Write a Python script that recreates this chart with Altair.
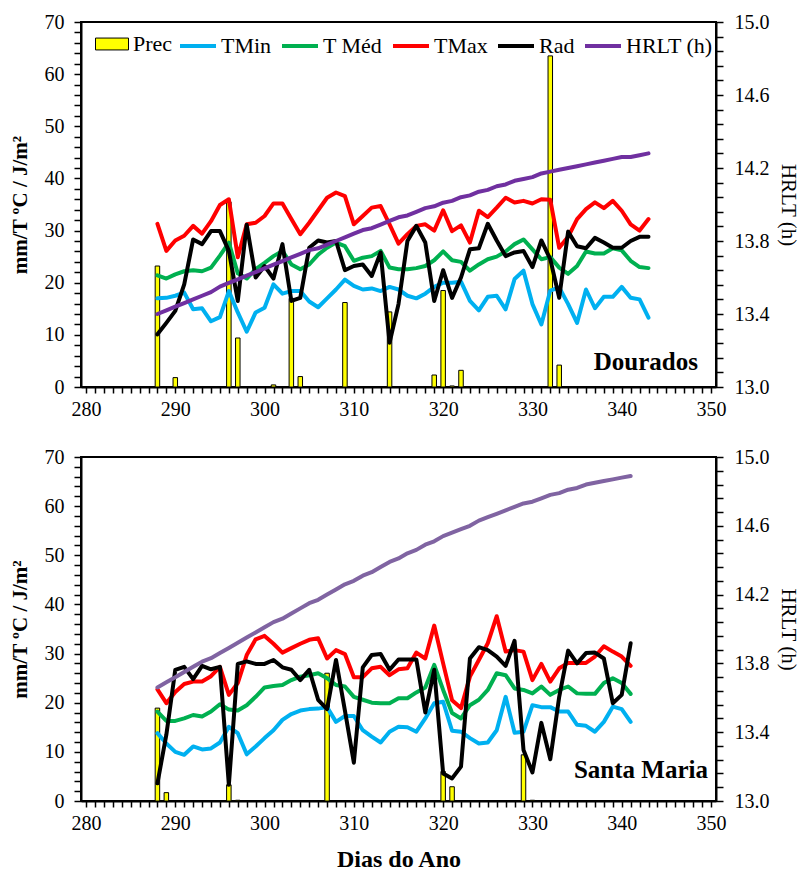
import altair as alt
import pandas as pd

FONT = "Liberation Serif"

# ---------------- Dourados (top) ----------------
DAYS_DOU = list(range(288, 344))
TMIN_DOU = [17.0, 17.1, 17.5, 18.1, 14.9, 15.1, 12.6, 13.4, 18.4, 14.3,
            10.6, 14.3, 15.2, 19.7, 17.9, 18.4, 18.4, 16.4, 15.3, 17.0,
            18.7, 20.6, 19.4, 18.7, 18.9, 18.4, 19.2, 18.7, 17.5, 17.0,
            17.9, 19.2, 20.0, 20.0, 20.2, 16.5, 14.7, 17.3, 17.5, 14.9,
            20.7, 22.3, 15.9, 12.0, 18.5, 19.1, 15.9, 12.3, 18.7, 15.1,
            17.3, 17.3, 19.2, 17.1, 16.8, 13.3]
TMED_DOU = [21.4, 20.8, 21.6, 22.2, 22.4, 22.2, 22.9, 25.2, 27.7, 21.8,
            20.8, 22.6, 23.8, 25.1, 26.1, 23.5, 22.6, 23.5, 25.4, 26.7,
            27.7, 27.0, 24.2, 24.8, 25.1, 26.1, 22.9, 22.6, 22.6, 22.8,
            23.2, 24.3, 26.0, 24.3, 24.0, 22.3, 23.5, 24.5, 25.0, 26.0,
            27.4, 28.3, 26.4, 24.5, 24.9, 22.9, 21.7, 23.2, 26.0, 25.6,
            25.6, 26.6, 26.2, 24.2, 23.0, 22.8]
TMAX_DOU = [31.3, 26.1, 28.1, 29.0, 30.9, 29.4, 31.8, 34.9, 36.0, 24.9,
            31.2, 31.5, 32.8, 35.2, 35.2, 32.2, 29.3, 31.5, 33.9, 36.3,
            37.3, 36.6, 31.2, 32.8, 34.4, 34.7, 31.2, 27.5, 29.3, 30.9,
            31.2, 30.0, 33.9, 29.9, 31.0, 27.7, 33.8, 32.6, 34.4, 36.3,
            35.4, 35.7, 35.2, 36.0, 35.9, 26.7, 28.8, 32.2, 34.1, 35.4,
            34.3, 35.7, 33.8, 31.2, 30.0, 32.2]
RAD_DOU = [10.1, 12.3, 14.6, 19.7, 28.3, 27.4, 29.9, 29.9, 26.1, 16.5,
           31.1, 21.0, 23.2, 20.8, 27.4, 16.5, 17.1, 26.7, 28.1, 27.7,
           28.0, 22.4, 23.2, 23.5, 21.3, 25.8, 8.5, 15.9, 28.0, 30.9,
           27.7, 16.5, 22.4, 17.1, 21.0, 26.4, 26.6, 31.3, 28.1, 25.1,
           25.8, 26.1, 23.0, 28.1, 24.5, 17.1, 29.8, 27.0, 26.6, 28.6,
           27.7, 26.7, 26.7, 28.0, 28.8, 28.8]
HRLT_DOU = [13.40, 13.42, 13.44, 13.46, 13.48, 13.50, 13.52, 13.55, 13.57, 13.59,
            13.61, 13.63, 13.65, 13.67, 13.69, 13.71, 13.73, 13.75, 13.76, 13.78,
            13.80, 13.82, 13.84, 13.86, 13.87, 13.89, 13.91, 13.93, 13.94, 13.96,
            13.98, 13.99, 14.01, 14.02, 14.04, 14.05, 14.07, 14.08, 14.10, 14.11,
            14.13, 14.14, 14.15, 14.17, 14.18, 14.19, 14.20, 14.21, 14.22, 14.23,
            14.24, 14.25, 14.26, 14.26, 14.27, 14.28]
PREC_DAYS_DOU = [288, 290, 296, 297, 301, 303, 304, 309, 314, 319, 320, 321, 322, 332, 333]
PREC_DOU = [23.2, 1.8, 35.5, 9.4, 0.4, 17.0, 2.0, 16.2, 14.4, 2.3, 18.5, 0.2, 3.2, 63.5, 4.2]

# ---------------- Santa Maria (bottom) ----------------
DAYS_SM = list(range(288, 342))
TMIN_SM = [13.8, 11.7, 10.0, 9.4, 11.1, 10.5, 10.7, 11.9, 15.1, 13.8,
           9.5, 11.1, 12.8, 14.4, 16.5, 17.7, 18.4, 18.7, 18.8, 19.1,
           16.1, 17.3, 17.3, 14.4, 13.1, 11.9, 14.1, 15.1, 15.0, 14.1,
           16.8, 19.9, 20.2, 14.3, 14.1, 12.8, 11.7, 11.9, 14.4, 21.2,
           13.9, 14.1, 19.5, 19.1, 19.1, 18.2, 18.2, 15.5, 15.3, 14.1,
           16.1, 19.2, 18.7, 16.1]
TMED_SM = [18.2, 16.3, 16.3, 16.8, 17.5, 17.2, 18.2, 19.7, 18.6, 18.4,
           19.5, 21.2, 23.1, 23.4, 23.6, 24.6, 25.3, 25.6, 26.0, 25.0,
           23.6, 23.3, 21.2, 20.6, 20.0, 19.9, 19.9, 20.9, 20.9, 22.1,
           23.1, 27.7, 22.6, 17.9, 16.8, 19.5, 20.6, 22.6, 26.0, 25.6,
           22.9, 22.6, 21.9, 23.3, 21.6, 22.6, 23.3, 21.9, 21.8, 21.8,
           24.0, 25.0, 24.0, 21.8]
TMAX_SM = [22.7, 19.9, 22.2, 23.8, 24.3, 24.3, 25.4, 27.3, 21.6, 24.0,
           29.7, 32.9, 33.6, 32.0, 30.2, 31.1, 32.0, 32.8, 33.1, 29.0,
           30.7, 29.9, 25.2, 25.2, 27.0, 27.3, 25.6, 26.8, 27.0, 30.2,
           29.0, 35.7, 28.0, 20.5, 18.9, 25.3, 28.7, 32.1, 37.6, 30.4,
           30.7, 30.4, 24.6, 27.9, 24.3, 27.0, 28.1, 28.1, 28.1, 29.4,
           31.5, 30.4, 29.4, 27.5]
RAD_SM = [3.6, 13.5, 26.7, 27.3, 24.8, 27.5, 26.8, 27.3, 3.3, 27.9,
          28.4, 27.9, 27.9, 28.7, 27.2, 26.7, 24.6, 26.7, 20.6, 18.7,
          28.7, 18.4, 7.8, 27.2, 29.7, 29.9, 26.7, 28.8, 28.8, 28.8,
          18.0, 26.7, 5.6, 4.6, 7.0, 29.0, 31.3, 30.7, 29.4, 27.5,
          32.6, 10.4, 5.8, 15.9, 8.5, 21.2, 30.6, 28.0, 30.1, 30.2,
          29.0, 19.9, 21.6, 32.1]
HRLT_SM = [13.66, 13.69, 13.72, 13.75, 13.78, 13.81, 13.83, 13.86, 13.89, 13.92,
           13.95, 13.98, 14.01, 14.04, 14.06, 14.09, 14.12, 14.15, 14.17, 14.20,
           14.23, 14.26, 14.28, 14.31, 14.33, 14.36, 14.39, 14.41, 14.44, 14.46,
           14.49, 14.51, 14.54, 14.56, 14.58, 14.60, 14.63, 14.65, 14.67, 14.69,
           14.71, 14.73, 14.74, 14.76, 14.78, 14.79, 14.81, 14.82, 14.84, 14.85,
           14.86, 14.87, 14.88, 14.89]
PREC_DAYS_SM = [288, 289, 296, 297, 307, 320, 321, 329, 330]
PREC_SM = [18.9, 1.7, 3.3, 0.15, 26.0, 6.0, 2.9, 9.4, 0.15]

SERIES = ["TMin", "T Méd", "TMax", "Rad", "HRLT (h)"]
COLORS_DOU = ["#00B0F0", "#00B050", "#FF0000", "#000000", "#7030A0"]
COLORS_SM = ["#00B0F0", "#00B050", "#FF0000", "#000000", "#8064A2"]
PREC_COLOR = "#FFFF00"

X_TICKS = list(range(280, 351))
YL_TICKS = list(range(0, 71, 2))
YR_TICKS = [round(13 + 0.08 * i, 2) for i in range(26)]

W = 635


def panel(days, tmin, tmed, tmax, rad, hrlt, pdays, prec, colors, label,
          h, show_legend, xtitle, lab_dx, lab_dy):
    x_enc = alt.X(
        "day:Q",
        scale=alt.Scale(domain=[280, 350], nice=False, zero=False),
        axis=alt.Axis(values=X_TICKS, labelExpr="datum.value % 10 == 0 ? datum.label : ''",
                      tickSize=6, labelPadding=6, labelFlush=False, labelOverlap=False,
                      title=xtitle if xtitle else None, titleFontSize=24,
                      titleFontWeight="bold", titlePadding=14),
    )
    y_left = alt.Y(
        "value:Q",
        scale=alt.Scale(domain=[0, 70], nice=False, zero=True),
        axis=alt.Axis(values=YL_TICKS, labelExpr="datum.value % 10 == 0 ? datum.label : ''",
                      tickSize=7, labelPadding=10, labelFlush=False, labelOverlap=False,
                      title="mm/T ºC / J/m²", titleFontSize=21, titleFontWeight="bold",
                      titlePadding=14),
    )
    y_right = alt.Y(
        "value:Q",
        scale=alt.Scale(domain=[13, 15], nice=False, zero=False),
        axis=alt.Axis(orient="right", values=YR_TICKS,
                      labelExpr="abs((datum.value-13)/0.4 - round((datum.value-13)/0.4)) < 0.001 ? format(datum.value, '.1f') : ''",
                      tickSize=7, labelPadding=11, labelFlush=False, labelOverlap=False,
                      title="HRLT (h)", titleFontSize=21, titleFontWeight="normal",
                      titlePadding=8),
    )

    stroke_scale = alt.Scale(domain=SERIES, range=colors)
    if show_legend:
        stroke_legend = alt.Legend(
            orient="none", legendX=97, legendY=4, direction="horizontal", columns=5,
            title=None, symbolType="stroke", symbolSize=1296, symbolStrokeWidth=4,
            labelFont=FONT, labelFontSize=22, labelColor="black", columnPadding=2,
            labelOffset=3, padding=0, labelLimit=200)
        fill_legend = alt.Legend(
            orient="none", legendX=14, legendY=5, direction="horizontal", title=None,
            symbolType="M-1,-0.36H1V0.36H-1Z", symbolSize=1089,
            symbolStrokeColor="black", symbolStrokeWidth=1,
            labelFont=FONT, labelFontSize=22, labelColor="black",
            labelOffset=4, padding=0)
    else:
        stroke_legend = None
        fill_legend = None

    prec_df = pd.DataFrame({"day": pdays, "value": prec, "series": "Prec"})
    bars = alt.Chart(prec_df).mark_bar(
        orient="vertical", size=4.5, stroke="black", strokeWidth=1
    ).encode(
        x=x_enc, y=y_left,
        fill=alt.Fill("series:N", scale=alt.Scale(domain=["Prec"], range=[PREC_COLOR]),
                      legend=fill_legend),
    )

    layers = [bars]
    for name, vals in [("TMin", tmin), ("T Méd", tmed), ("TMax", tmax), ("Rad", rad)]:
        df = pd.DataFrame({"day": days, "value": vals, "series": name})
        layers.append(
            alt.Chart(df).mark_line(strokeWidth=4, strokeJoin="round", strokeCap="round").encode(
                x=x_enc, y=y_left,
                stroke=alt.Stroke("series:N", scale=stroke_scale, legend=stroke_legend),
            )
        )

    lab_df = pd.DataFrame({"t": [label]})
    layers.append(
        alt.Chart(lab_df).mark_text(font=FONT, fontSize=25, fontWeight="bold",
                                    align="right", baseline="middle", color="black").encode(
            x=alt.value(W - lab_dx), y=alt.value(h - lab_dy), text="t:N")
    )
    left = alt.layer(*layers)

    hr_df = pd.DataFrame({"day": days, "value": hrlt, "series": "HRLT (h)"})
    hr = alt.Chart(hr_df).mark_line(strokeWidth=4, strokeJoin="round", strokeCap="round").encode(
        x=x_enc, y=y_right,
        stroke=alt.Stroke("series:N", scale=stroke_scale, legend=stroke_legend),
    )

    return alt.layer(left, hr).resolve_scale(y="independent").properties(width=W, height=h)


top = panel(DAYS_DOU, TMIN_DOU, TMED_DOU, TMAX_DOU, RAD_DOU, HRLT_DOU,
            PREC_DAYS_DOU, PREC_DOU, COLORS_DOU, "Dourados", 365, True, None, 18, 25)
bottom = panel(DAYS_SM, TMIN_SM, TMED_SM, TMAX_SM, RAD_SM, HRLT_SM,
               PREC_DAYS_SM, PREC_SM, COLORS_SM, "Santa Maria", 344, False, "Dias do Ano", 8, 31)

chart = alt.vconcat(top, bottom, spacing=26).resolve_scale(
    stroke="independent", fill="independent"
).properties(
    padding={"left": 0, "top": 3, "right": 3, "bottom": 0},
    background="white",
).configure_view(
    stroke="black", strokeWidth=2
).configure_axis(
    grid=False, domainColor="black", domainWidth=2, tickColor="black", tickWidth=1.5,
    labelFont=FONT, labelFontSize=20, labelColor="black",
    titleFont=FONT, titleColor="black",
)

chart.save("out.html", embed_options={"renderer": "svg", "actions": False})
